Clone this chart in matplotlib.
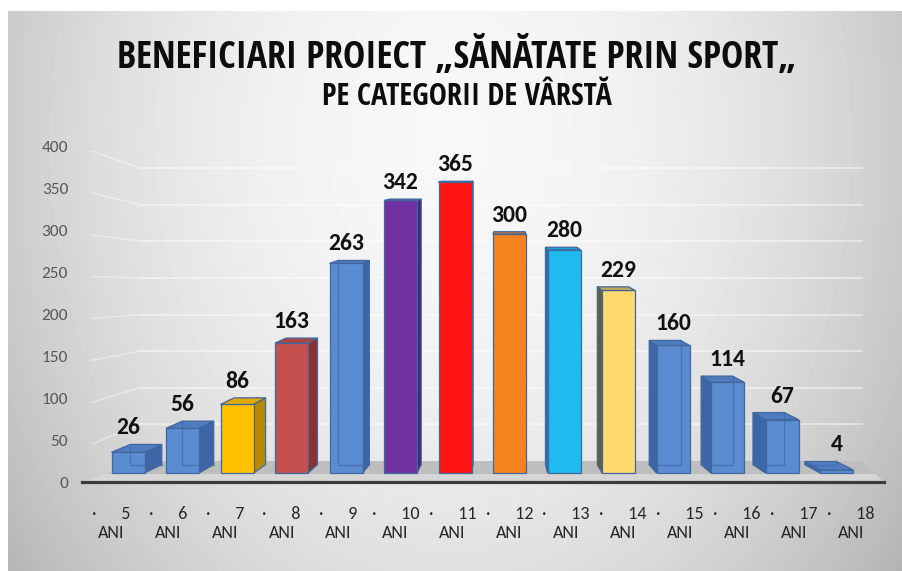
import matplotlib
matplotlib.use('agg')
import matplotlib.pyplot as plt
import numpy as np
from matplotlib.patches import Polygon
from matplotlib import font_manager


# chart values
ages = ['5', '6', '7', '8', '9', '10', '11', '12', '13', '14', '15', '16', '17', '18']
counts = [26, 56, 86, 163, 263, 342, 365, 300, 280, 229, 160, 114, 67, 4]
face_colors = ['#5b8bd0', '#5b8bd0', '#ffc000', '#c4504e', '#5b8bd0', '#7030a0', '#ff1414',
               '#f5821f', '#1fbaf0', '#fed96f', '#5b8bd0', '#5b8bd0', '#5b8bd0', '#5b8bd0']
side_colors = ['#3e66a6', '#3e66a6', '#b88a00', '#8b3230', '#3e66a6', '#4b1f6e', '#b00a0a',
               '#b25a12', '#1080b5', '#6e5c2e', '#3e66a6', '#3e66a6', '#3e66a6', '#3e66a6']
y_ticks = [0, 50, 100, 150, 200, 250, 300, 350, 400]
unit = 'ANI'
title = 'BENEFICIARI PROIECT „SĂNĂTATE PRIN SPORT„'
subtitle = 'PE CATEGORII DE VÂRSTĂ'


def first_font(names):
    have = {f.name for f in font_manager.fontManager.ttflist}
    for n in names:
        if n in have:
            return n
    return 'DejaVu Sans'


TITLE_FONT = first_font(['Open Sans Condensed', 'Encode Sans Condensed', 'Asap Condensed',
                         'Barlow Condensed', 'Liberation Sans Narrow'])
BODY_FONT = first_font(['Carlito', 'Lato', 'Open Sans'])
plt.rcParams['font.family'] = [BODY_FONT, 'DejaVu Sans']

W, H = 902, 571
fig = plt.figure(figsize=(W / 100, H / 100), dpi=100, facecolor='white')


def rect(x0, y0, x1, y1):
    # pixel box (origin top-left) -> figure fraction
    return [x0 / W, 1 - y1 / H, (x1 - x0) / W, (y1 - y0) / H]


# grey radial background of the chart area
bg = fig.add_axes(rect(8, 11, W, H), zorder=0)
bg.axis('off')
yy, xx = np.mgrid[11:H, 8:W]
r2 = ((xx - 450) / 470.0) ** 2 + ((yy - 140) / 620.0) ** 2
shade = np.clip(0.97 - 0.19 * r2, 0, 1)
bg.imshow(shade, cmap='gray', vmin=0, vmax=1, aspect='auto', interpolation='bilinear')

# plot area in pixels
LEFT, RIGHT, TOP, BASE = 82, 884, 120, 482
# front face of the bars
BAR_X0, BAR_STEP, BAR_Y0, BAR_PX, BAR_W = 128, 54.5, 473, 0.797, 33
# front edge of the floor (axis labels)
FRONT_X0, FRONT_STEP, FRONT_PX = 111, 56.9, 0.8375
# back wall
WALL_Y0, WALL_PX, WALL_X0, WALL_X1, SIDE_X = 461, 0.7325, 140, 862, 92
# perspective
VX, KX, VY, KY = 505, 0.048, 150, 0.026

ax = fig.add_axes(rect(LEFT, TOP, RIGHT, BASE), zorder=1)
ax.axis('off')
ax.set_xlim((LEFT - BAR_X0) / BAR_STEP, (RIGHT - BAR_X0) / BAR_STEP)
ax.set_ylim((BAR_Y0 - BASE) / BAR_PX, (BAR_Y0 - TOP) / BAR_PX)


def to_px(x, y):
    return BAR_X0 + BAR_STEP * x, BAR_Y0 - BAR_PX * y


def to_data(px, py):
    return (px - BAR_X0) / BAR_STEP, (BAR_Y0 - py) / BAR_PX


def back(x, y):
    px, py = to_px(x, y)
    return to_data(px + KX * (VX - px), py - KY * (py - VY))


# back wall gridlines (with the slanted part on the left side wall)
for v in y_ticks[1:]:
    p0 = to_data(SIDE_X, BASE - FRONT_PX * v + 4)
    p1 = to_data(WALL_X0, WALL_Y0 - WALL_PX * v)
    p2 = to_data(WALL_X1, WALL_Y0 - WALL_PX * v)
    ax.plot([p0[0], p1[0]], [p0[1], p1[1]], color='white', lw=1.0,
            alpha=0.45, zorder=1, clip_on=False)
    ax.plot([p1[0], p2[0]], [p1[1], p2[1]], color='white', lw=1.1,
            alpha=0.6, zorder=1, clip_on=False)

# floor
floor_back = [to_data(SIDE_X - 8, BASE), to_data(WALL_X0, WALL_Y0),
              to_data(WALL_X1, WALL_Y0), to_data(RIGHT, BASE)]
ax.add_patch(Polygon(floor_back, closed=True, facecolor='#d6d6d6', edgecolor='none',
                     zorder=1, clip_on=False))
mid = WALL_Y0 + 13
floor_dark = [to_data(WALL_X0 - 34, mid), to_data(WALL_X0, WALL_Y0),
              to_data(WALL_X1, WALL_Y0), to_data(WALL_X1 + 14, mid)]
ax.add_patch(Polygon(floor_dark, closed=True, facecolor='#bebebe', edgecolor='none',
                     zorder=1, clip_on=False))

x = np.arange(len(ages))
hw = BAR_W / 2 / BAR_STEP
EDGE = '#41679f'

ax.bar(x, counts, width=2 * hw, color=face_colors, edgecolor=EDGE, linewidth=0.9,
       zorder=3, clip_on=False)

for i, v in enumerate(counts):
    fl, fr = (i - hw, v), (i + hw, v)
    bl, br = (i - hw, 0), (i + hw, 0)
    top = [fl, fr, back(*fr), back(*fl)]
    top_col = matplotlib.colors.to_rgb(face_colors[i])
    top_col = tuple(0.6 * a + 0.4 * b for a, b in
                    zip(top_col, matplotlib.colors.to_rgb(side_colors[i])))
    ax.add_patch(Polygon(top, closed=True, facecolor=top_col, edgecolor=EDGE,
                         lw=0.9, zorder=4, clip_on=False))
    right_px = to_px(i + hw, 0)[0]
    left_px = to_px(i - hw, 0)[0]
    side = None
    inner = None
    if right_px < VX - 40:
        side = [br, fr, back(*fr), back(*br)]
        inner = [back(*fl), back(*bl), back(*br)]
    elif left_px > VX + 30:
        side = [bl, fl, back(*fl), back(*bl)]
        inner = [back(*fr), back(*br), back(*bl)]
    elif right_px < VX - 20:
        side = [br, fr, back(*fr), back(*br)]
    elif left_px > VX + 20:
        side = [bl, fl, back(*fl), back(*bl)]
    if side is not None:
        ax.add_patch(Polygon(side, closed=True, facecolor=side_colors[i], edgecolor=EDGE,
                             lw=0.9, zorder=2, clip_on=False))
    if inner is not None and face_colors[i] == '#5b8bd0':
        ax.plot([p[0] for p in inner], [p[1] for p in inner], color='#3f6aaa',
                lw=0.9, alpha=0.7, zorder=5, clip_on=False)
    lx, ly = back(*fl)
    ax.annotate(str(v), xy=(i, ly), xytext=(0, 10), textcoords='offset pixels',
                ha='center', va='baseline', fontsize=17, fontweight='bold',
                color='#111111', zorder=6, annotation_clip=False)

# front axis: tick labels and the dark base line
axf = fig.add_axes(rect(LEFT, TOP, RIGHT, BASE), zorder=2)
axf.patch.set_visible(False)
axf.set_xlim((LEFT - FRONT_X0) / FRONT_STEP, (RIGHT - FRONT_X0) / FRONT_STEP)
axf.set_ylim(0, (BASE - TOP) / FRONT_PX)
for s in ['left', 'top', 'right']:
    axf.spines[s].set_visible(False)
axf.spines['bottom'].set_color('#3c3c3c')
axf.spines['bottom'].set_linewidth(2.3)
axf.set_yticks(y_ticks)
axf.set_yticklabels([str(v) for v in y_ticks])
axf.tick_params(axis='y', length=0, pad=10, labelsize=12.5, labelcolor='#595959')
axf.set_xticks(x)
axf.set_xticklabels(['·      ' + a + '\n' + unit for a in ages])
axf.tick_params(axis='x', length=0, pad=17, labelsize=13, labelcolor='#262626')
for lab in axf.get_xticklabels():
    lab.set_linespacing(1.25)
    lab.set_multialignment('center')

# titles, fitted to the width they take in the picture
renderer = fig.canvas.get_renderer()
t1 = fig.text(457 / W, 1 - 68 / H, title, ha='center', va='baseline', fontsize=30,
              fontweight='bold', family=[TITLE_FONT, 'DejaVu Sans'], color='#0d0d0d')
t1.set_fontsize(30 * 680 / t1.get_window_extent(renderer).width)
t2 = fig.text(467 / W, 1 - 105 / H, subtitle, ha='center', va='baseline', fontsize=20,
              fontweight='bold', family=[TITLE_FONT, 'DejaVu Sans'], color='#0d0d0d')
t2.set_fontsize(20 * 290 / t2.get_window_extent(renderer).width)

fig.savefig('out.png', dpi=100, facecolor='white')
plt.close(fig)
